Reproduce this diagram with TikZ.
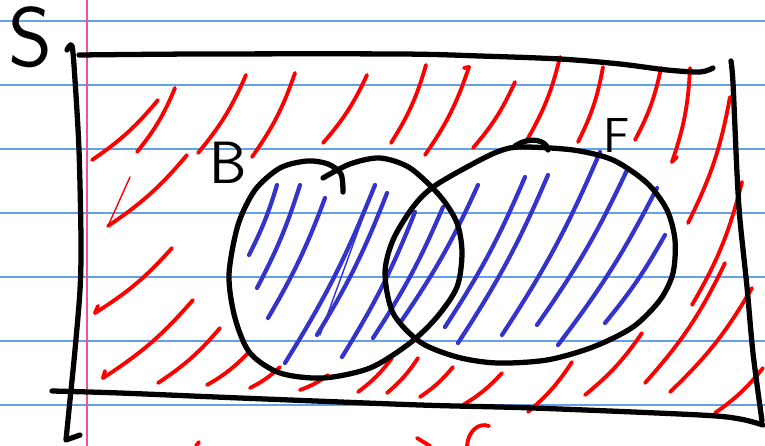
\documentclass[tikz,border=0pt]{standalone}
\usepackage{fontspec}
\usepackage{xcolor}
\usepackage{tikz}
\usetikzlibrary{arrows.meta, positioning, calc}
\definecolor{VennRed}{RGB}{255, 0, 0}
\definecolor{VennBlue}{RGB}{52, 52, 204}
\definecolor{VennInk}{RGB}{0, 0, 0}
\definecolor{PaperRule}{RGB}{100, 160, 235}
\definecolor{PaperMargin}{RGB}{240, 80, 160}

\tikzset{
  inkline/.style={draw=VennInk, line width=3pt, line cap=round, line join=round},
  redhatch/.style={draw=VennRed, line width=2.2pt, line cap=round},
  bluehatch/.style={draw=VennBlue, line width=2.4pt, line cap=round},
  paperrule/.style={draw=PaperRule, line width=1.1pt},
  setlabel/.style={inner sep=0pt, text=VennInk}
}

\begin{document}
\begin{tikzpicture}[x=0.02cm, y=-0.02cm]
    \useasboundingbox (0,0) rectangle (765,446);
    \fill[white] (0,0) rectangle (765,446);
    \foreach \ry in {21,85,149,213,277,341,405}
      \draw[paperrule] (0,\ry) -- (765,\ry);
    \draw[draw=PaperMargin, line width=1.1pt] (87,0) -- (87,446);

    % hatching outside the two sets
    \foreach \xa/\ya/\xb/\yb in {92/160/158/100, 137/152/175/88, 198/153/246/75,
        252/157/295/73, 323/143/367/75, 391/143/426/65, 425/155/469/67,
        473/148/515/82, 527/140/560/57, 578/142/603/67, 635/140/661/68,
        672/162/690/68, 688/223/730/97, 692/305/742/182,
        108/226/187/155, 95/313/172/248, 103/378/193/300,
        158/383/220/328, 207/385/248/353, 250/388/280/367, 300/390/328/375,
        358/392/392/358, 387/393/418/358, 420/397/453/367, 463/405/502/373,
        528/412/572/362, 585/395/642/333,
        645/383/725/263, 670/392/752/288, 715/413/763/368}
      \draw[redhatch] (\xa,\ya) to[bend right=8] (\xb,\yb);
    \draw[redhatch] (469,67) -- (464,68);
    \draw[redhatch] (672,162) -- (677,157);
    \draw[redhatch] (95,313) -- (98,306);
    \draw[redhatch] (103,378) -- (105,371);
    \draw[redhatch, line width=0.8pt] (108,226) -- (130,177);
    \draw[redhatch] (196,446) -- (199,442);
    \draw[redhatch] (417,438) -- (430,446);
    \draw[redhatch] (489,426) .. controls (478,422) and (468,432) .. (467,446);

    % hatching inside B and F
    \foreach \xa/\ya/\xb/\yb in {249/255/277/185, 257/288/300/185, 268/318/325/198,
        285/363/375/185, 317/335/387/193, 342/357/415/212, 373/338/443/207,
        400/323/478/185, 445/327/525/177, 458/343/548/175, 502/335/600/152,
        537/325/628/168, 558/345/657/188, 605/323/665/235}
      \draw[bluehatch] (\xa,\ya) to[bend right=5] (\xb,\yb);
    \draw[bluehatch, line width=0.8pt] (320,335) -- (373,190);

    % the universe S
    \draw[inkline] plot[smooth] coordinates {(67,50) (72,46) (75,80) (79,150)
        (81,240) (80,290) (75,350) (70,400) (66,440)} -- (80,435);
    \draw[inkline] plot[smooth] coordinates {(79,55) (200,54) (400,54) (480,56)
        (560,59) (620,64) (667,70) (700,72) (713,68)};
    \draw[inkline] plot[smooth] coordinates {(731,61) (733,83) (737,173) (740,220)
        (747,287) (753,353) (762,421)};
    \draw[inkline] plot[smooth] coordinates {(52,391) (120,393) (240,398) (420,405)
        (533,408) (700,415) (740,419) (763,425)};

    % set B
    \draw[inkline] plot[smooth] coordinates {(323,178) (350,164) (380,158) (410,168)
        (440,196) (457,223) (462,253) (457,287) (437,317) (410,343) (370,368)
        (323,378) (280,373) (250,353) (235,318) (229,275) (238,225) (255,190)
        (280,168) (307,161) (328,164) (341,174) (343,192)};

    % set F
    \draw[inkline] plot[smooth cycle] coordinates {(520,147) (573,150) (613,160)
        (647,183) (667,210) (675,240) (673,273) (660,300) (633,327) (593,347)
        (547,360) (497,363) (457,357) (420,342) (393,313) (385,273) (393,240)
        (413,207) (433,187) (467,167) (497,152)};
    \draw[inkline] (515,146) .. controls (530,136) and (547,140) .. (548,150);

    \node[setlabel, font=\sffamily\fontsize{48}{48}\selectfont] (labelS) at (31,37) {S};
    \node[setlabel, font=\sffamily\fontsize{34}{34}\selectfont] (labelB) at (228,163) {B};
    \node[setlabel, font=\sffamily\fontsize{28}{28}\selectfont] (labelF) at (617,135) {F};
\end{tikzpicture}
\end{document}
